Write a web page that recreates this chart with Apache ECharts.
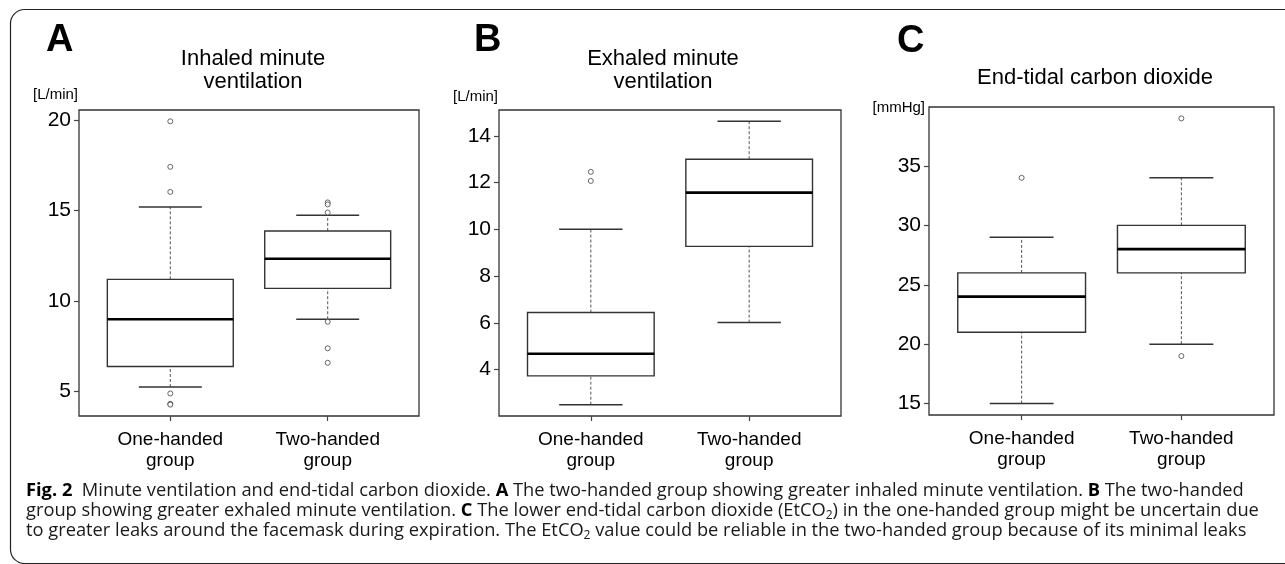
<!DOCTYPE html>
<html>
<head>
<meta charset="utf-8">
<script src="https://cdn.jsdelivr.net/npm/echarts@6/dist/echarts.min.js"></script>
<style>
html,body{margin:0;padding:0;background:#fff;}
#chart{width:1285px;height:564px;}
</style>
</head>
<body>
<div id="chart"></div>
<script>
// ---- data ----
const categories = ['One-handed\ngroup', 'Two-handed\ngroup'];
const panelLetters = ['A', 'B', 'C'];
const panelTitles = ['Inhaled minute\nventilation', 'Exhaled minute\nventilation', 'End-tidal carbon dioxide'];
const unitLabels = ['[L/min]', '[L/min]', '[mmHg]'];
// [lower whisker, Q1, median, Q3, upper whisker] per group
const inhaledBox = [[5.23, 6.36, 8.98, 11.19, 15.20], [8.98, 10.69, 12.33, 13.87, 14.74]];
const inhaledOutliers = [[19.94, 17.42, 16.03, 4.87, 4.30, 4.25], [15.45, 15.34, 14.89, 8.84, 7.37, 6.57]];
const exhaledBox = [[2.50, 3.73, 4.68, 6.44, 10.00], [6.01, 9.27, 11.57, 13.00, 14.62]];
const exhaledOutliers = [[12.46, 12.07], []];
const etco2Box = [[15, 21, 24, 26, 29], [20, 26, 28, 30, 34]];
const etco2Outliers = [[34], [39, 19]];
const yTickValues = [[5, 10, 15, 20], [4, 6, 8, 10, 12, 14], [15, 20, 25, 30, 35]];
const captionLines = [
  '{b|Fig. 2}  Minute ventilation and end-tidal carbon dioxide. {b|A} The two-handed group showing greater inhaled minute ventilation. {b|B} The two-handed',
  'group showing greater exhaled minute ventilation. {b|C} The lower end-tidal carbon dioxide (EtCO{s|2}) in the one-handed group might be uncertain due',
  'to greater leaks around the facemask during expiration. The EtCO{s|2} value could be reliable in the two-handed group because of its minimal leaks'
];

// ---- layout ----
const boxes = [inhaledBox, exhaledBox, etco2Box];
const outliers = [inhaledOutliers, exhaledOutliers, etco2Outliers];
const grids = [
  {left: 79, top: 110, width: 340, height: 306},
  {left: 499, top: 110, width: 342, height: 306},
  {left: 929, top: 107, width: 345, height: 308}
];
const FONT = '"Liberation Sans", Arial, Helvetica, sans-serif';
const CAPFONT = '"Open Sans", "Noto Sans", sans-serif';

function yRange(i) {
  let vals = [];
  boxes[i].forEach(b => vals = vals.concat(b));
  outliers[i].forEach(o => vals = vals.concat(o));
  const lo = Math.min(...vals), hi = Math.max(...vals);
  const pad = 0.04 * (hi - lo);
  return [lo - pad, hi + pad];
}

function renderBox(params, api) {
  const x = api.value(0);
  const lo = api.value(1), q1 = api.value(2), med = api.value(3), q3 = api.value(4), hi = api.value(5);
  const boxHalf = api.size([0.8, 0])[0] / 2;
  const capHalf = boxHalf / 2;
  const pLo = api.coord([x, lo]), pQ1 = api.coord([x, q1]), pMed = api.coord([x, med]),
        pQ3 = api.coord([x, q3]), pHi = api.coord([x, hi]);
  const cx = pLo[0];
  const dash = {stroke: '#555', lineWidth: 1, lineDash: [3, 2]};
  const cap = {stroke: '#333', lineWidth: 1.5};
  return {
    type: 'group',
    children: [
      {type: 'line', shape: {x1: cx, y1: pLo[1], x2: cx, y2: pQ1[1]}, style: dash},
      {type: 'line', shape: {x1: cx, y1: pQ3[1], x2: cx, y2: pHi[1]}, style: dash},
      {type: 'line', shape: {x1: cx - capHalf, y1: pLo[1], x2: cx + capHalf, y2: pLo[1]}, style: cap},
      {type: 'line', shape: {x1: cx - capHalf, y1: pHi[1], x2: cx + capHalf, y2: pHi[1]}, style: cap},
      {type: 'rect', shape: {x: cx - boxHalf, y: pQ3[1], width: 2 * boxHalf, height: pQ1[1] - pQ3[1]},
        style: {fill: '#fff', stroke: '#333', lineWidth: 1.4}},
      {type: 'line', shape: {x1: cx - boxHalf, y1: pMed[1], x2: cx + boxHalf, y2: pMed[1]},
        style: {stroke: '#000', lineWidth: 2.6}}
    ]
  };
}

const option = {
  backgroundColor: '#fff',
  animation: false,
  grid: grids.map(g => Object.assign({show: true, borderColor: '#333', borderWidth: 1.3, backgroundColor: 'transparent'}, g)),
  xAxis: grids.map((g, i) => ({
    type: 'value', gridIndex: i, min: 0.42, max: 2.58,
    splitLine: {show: false},
    axisLine: {show: false},
    axisTick: {show: true, length: 5, customValues: [1, 2], lineStyle: {color: '#444', width: 1.2}},
    axisLabel: {
      customValues: [1, 2], margin: 13,
      formatter: v => categories[Math.round(v) - 1],
      fontFamily: FONT, fontSize: 19, lineHeight: 21, color: '#000'
    }
  })),
  yAxis: grids.map((g, i) => {
    const r = yRange(i);
    return {
      type: 'value', gridIndex: i, min: r[0], max: r[1],
      splitLine: {show: false},
      axisLine: {show: false},
      axisTick: {show: true, length: 5, customValues: yTickValues[i], lineStyle: {color: '#444', width: 1.2}},
      axisLabel: {customValues: yTickValues[i], margin: 8, fontFamily: FONT, fontSize: 21, color: '#000'}
    };
  }),
  series: [].concat(
    boxes.map((b, i) => ({
      type: 'custom', xAxisIndex: i, yAxisIndex: i,
      renderItem: renderBox,
      encode: {x: 0, y: [1, 2, 3, 4, 5]},
      data: b.map((s, k) => [k + 1].concat(s)),
      z: 2
    })),
    outliers.map((o, i) => ({
      type: 'scatter', xAxisIndex: i, yAxisIndex: i,
      symbol: 'circle', symbolSize: 5,
      itemStyle: {color: '#fff', borderColor: '#444', borderWidth: 1},
      data: [].concat(...o.map((vals, k) => vals.map(v => [k + 1, v]))),
      z: 3
    }))
  ),
  graphic: [
    {type: 'rect', shape: {x: 10.5, y: 9.5, width: 1320, height: 554, r: 14},
      style: {fill: 'none', stroke: '#222', lineWidth: 1.2}, silent: true},
    // panel letters
    {type: 'text', x: 46, y: 41, style: {text: panelLetters[0], font: 'bold 38px ' + FONT, fill: '#000', textVerticalAlign: 'middle'}},
    {type: 'text', x: 474, y: 41, style: {text: panelLetters[1], font: 'bold 38px ' + FONT, fill: '#000', textVerticalAlign: 'middle'}},
    {type: 'text', x: 897, y: 42, style: {text: panelLetters[2], font: 'bold 38px ' + FONT, fill: '#000', textVerticalAlign: 'middle'}},
    // panel titles
    {type: 'text', x: 253, y: 70.5, style: {text: panelTitles[0], font: '22px ' + FONT, lineHeight: 23, fill: '#000', textAlign: 'center', textVerticalAlign: 'middle'}},
    {type: 'text', x: 663, y: 70, style: {text: panelTitles[1], font: '22px ' + FONT, lineHeight: 23, fill: '#000', textAlign: 'center', textVerticalAlign: 'middle'}},
    {type: 'text', x: 1095, y: 78, style: {text: panelTitles[2], font: '22px ' + FONT, fill: '#000', textAlign: 'center', textVerticalAlign: 'middle'}},
    // unit labels
    {type: 'text', x: 78, y: 95, style: {text: unitLabels[0], font: '15px ' + FONT, fill: '#000', textAlign: 'right', textVerticalAlign: 'middle'}},
    {type: 'text', x: 498, y: 97, style: {text: unitLabels[1], font: '15px ' + FONT, fill: '#000', textAlign: 'right', textVerticalAlign: 'middle'}},
    {type: 'text', x: 925, y: 108, style: {text: unitLabels[2], font: '15px ' + FONT, fill: '#000', textAlign: 'right', textVerticalAlign: 'middle'}}
  ].concat(captionLines.map((t, k) => ({
    type: 'text', x: 26, y: 491 + k * 20,
    style: {
      text: t, fontFamily: CAPFONT, fontSize: 18.3, fill: '#1a1a1a',
      textVerticalAlign: 'middle',
      rich: {
        b: {fontFamily: CAPFONT, fontSize: 18.3, fontWeight: 'bold', fill: '#000'},
        s: {fontFamily: CAPFONT, fontSize: 12, fill: '#1a1a1a', verticalAlign: 'bottom', padding: [9, 0, 0, 0]}
      }
    }
  })))
};

const chart = echarts.init(document.getElementById('chart'), null, {renderer: 'canvas'});
chart.setOption(option);
</script>
</body>
</html>
